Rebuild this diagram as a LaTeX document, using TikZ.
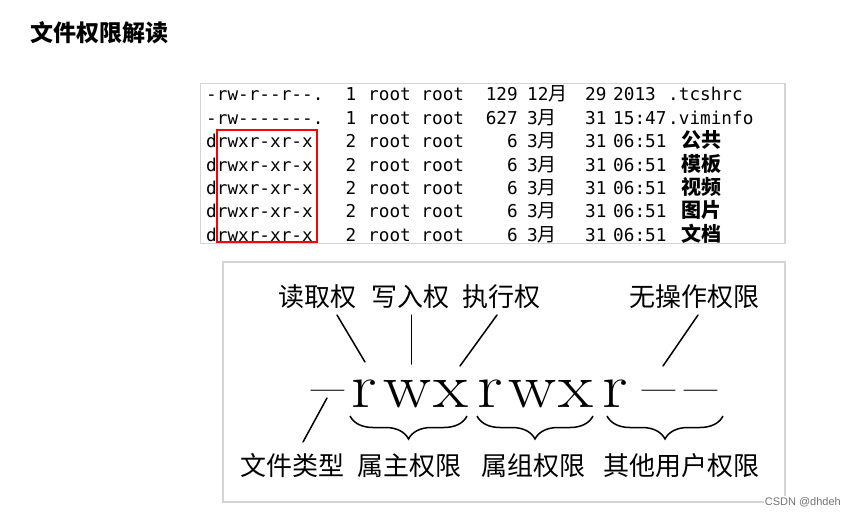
\documentclass[tikz,border=0pt]{standalone}
\usepackage{fontspec}
\usepackage{graphicx}
\setmonofont{DejaVu Sans Mono}
\newfontfamily\cjk{Noto Sans CJK SC}
\newfontfamily\wmfont{Liberation Sans}
\usetikzlibrary{decorations.pathreplacing}
\tikzset{
  panel/.style={draw=black!17, line width=1.6pt},
  ls/.style={font=\fontsize{17.7}{20}\selectfont\ttfamily, inner sep=0pt, anchor=base west},
  lscjk/.style={font=\fontsize{20}{22}\selectfont\cjk\bfseries, inner sep=0pt, anchor=base west},
  big/.style={font=\fontsize{63}{63}\selectfont, inner sep=0pt, anchor=base},
  lab/.style={font=\fontsize{26}{26}\selectfont\cjk, inner sep=0pt},
  conn/.style={line width=1.5pt, line cap=round},
  brc/.style={line width=1.5pt, decorate, decoration={brace, mirror, amplitude=23pt}},
}
\newcommand\lsrow[8]{%
  \node[ls] (perm#1) at (206,#2) {#3};
  \node[ls, anchor=base] (n#1) at (351,#2) {#4};
  \node[ls] (own#1) at (368,#2) {root root};
  \node[ls, anchor=base east] (sz#1) at (518,#2) {#5};
  \node[ls] (mon#1) at (527,#2) {#6{\cjk\fontsize{19}{20}\selectfont 月}};
  \node[ls] (day#1) at (585,#2) {#7};
  \node[ls] (tm#1) at (613,#2) {#8};
}
\newcommand\bigch[3]{\node[big] (#1) at (#2,407) {\scalebox{1.14}[1]{#3}};}
\begin{document}
\begin{tikzpicture}[x=1pt, y=-1pt]
\useasboundingbox (0,0) rectangle (848,516);
\fill[white] (0,0) rectangle (848,516);

% title
\node[font=\fontsize{23}{23}\selectfont\cjk\bfseries, anchor=west, inner sep=0pt] (title) at (30,33) {文件权限解读};

% top panel: ls listing
\draw[panel] (200.5,83.5) rectangle (785,243.5);
\lsrow{1}{101}{-rw-r--r--.}{1}{129}{12}{29}{2013}
\lsrow{2}{124.3}{-rw-------.}{1}{627}{3}{31}{15:47}
\lsrow{3}{147.7}{drwxr-xr-x}{2}{6}{3}{31}{06:51}
\lsrow{4}{171}{drwxr-xr-x}{2}{6}{3}{31}{06:51}
\lsrow{5}{194.3}{drwxr-xr-x}{2}{6}{3}{31}{06:51}
\lsrow{6}{217.7}{drwxr-xr-x}{2}{6}{3}{31}{06:51}
\lsrow{7}{241}{drwxr-xr-x}{2}{6}{3}{31}{06:51}
\node[ls] (nm1) at (668,101) {.tcshrc};
\node[ls] (nm2) at (668,124.3) {.viminfo};
\node[lscjk] (nm3) at (681,147.7) {公共};
\node[lscjk] (nm4) at (681,171) {模板};
\node[lscjk] (nm5) at (681,194.3) {视频};
\node[lscjk] (nm6) at (681,217.7) {图片};
\node[lscjk] (nm7) at (681,241) {文档};
\draw[red, line width=1.6pt] (217,130) rectangle (317,242);

% bottom panel
\draw[panel] (223,262) rectangle (785,502);
\bigch{dash0}{327.5}{--}
\bigch{r1}{364}{r}
\bigch{w1}{407.5}{w}
\bigch{x1}{451}{x}
\bigch{r2}{490}{r}
\bigch{w2}{532.5}{w}
\bigch{x2}{575.5}{x}
\bigch{r3}{615}{r}
\bigch{d1}{658.5}{--}
\bigch{d2}{700.5}{--}

\node[lab] (lread) at (317,297) {读取权};
\node[lab] (lwrite) at (410,297) {写入权};
\node[lab] (lexec) at (501,297) {执行权};
\node[lab] (lnone) at (694.5,297) {无操作权限};
\node[lab] (ltype) at (292,466) {文件类型};
\node[lab] (lown) at (409,466) {属主权限};
\node[lab] (lgrp) at (533,466) {属组权限};
\node[lab] (loth) at (681,466) {其他用户权限};

\coordinate (a1) at (337,315); \coordinate (b1) at (365,362);
\coordinate (a2) at (411.5,315); \coordinate (b2) at (411.5,364);
\coordinate (a3) at (497,315); \coordinate (b3) at (460,366);
\coordinate (a4) at (698,315); \coordinate (b4) at (663,366);
\coordinate (a5) at (327,398); \coordinate (b5) at (303,442);
\draw[conn] (a1) -- (b1);
\draw[conn] (a2) -- (b2);
\draw[conn] (a3) -- (b3);
\draw[conn] (a4) -- (b4);
\draw[conn] (a5) -- (b5);

\coordinate (s1) at (350,416); \coordinate (e1) at (467,416);
\coordinate (s2) at (477,416); \coordinate (e2) at (593,416);
\coordinate (s3) at (607,416); \coordinate (e3) at (723,416);
\draw[brc] (s1) -- (e1);
\draw[brc] (s2) -- (e2);
\draw[brc] (s3) -- (e3);

\node[font=\fontsize{11}{11}\selectfont\wmfont, text=black!55, fill=white, inner sep=1pt, anchor=east] (wm) at (842,502) {CSDN @dhdeh};
\end{tikzpicture}
\end{document}
